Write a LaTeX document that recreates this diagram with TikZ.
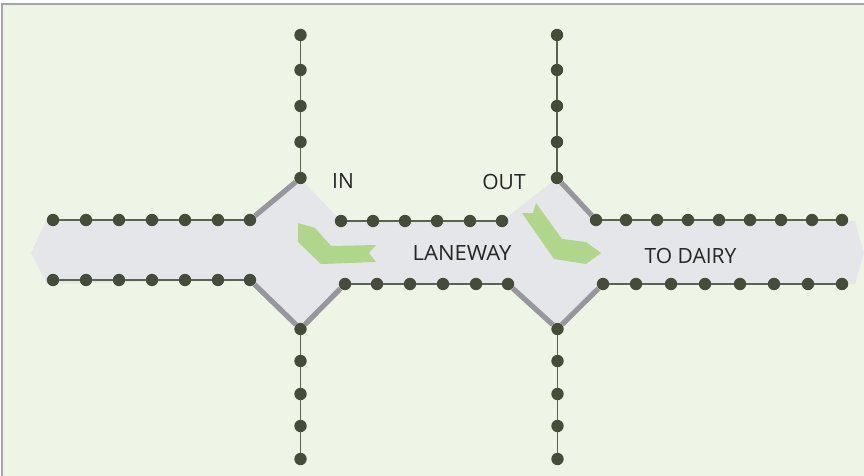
\documentclass[tikz,border=0pt]{standalone}
\usepackage{fontspec}
\setmainfont{Open Sans}
\usepackage{xcolor}
\definecolor{paddock}{HTML}{EFF5E6}
\definecolor{yard}{HTML}{E5E6E9}
\definecolor{framegrey}{HTML}{A6A6A6}
\definecolor{gategrey}{HTML}{96969C}
\definecolor{postgreen}{HTML}{454D3A}
\definecolor{railgreen}{HTML}{5A6250}
\definecolor{flow}{HTML}{AFD68A}
\tikzset{
	post/.style={circle,fill=postgreen,minimum size=12.4pt,inner sep=0pt},
	fence/.style={draw=railgreen,line width=1.3pt},
	gate/.style={draw=gategrey,line width=5.2pt},
	lbl/.style={inner sep=0pt,text=black!85,font=\fontsize{21}{23}\selectfont}
}
\begin{document}
\begin{tikzpicture}[x=1pt,y=-1pt]
	\useasboundingbox (0,0) rectangle (864,476);
	\fill[paddock] (2,4) rectangle (864,476);
	\draw[framegrey,line width=2pt] (2,476) -- (2,4.5) -- (864,4.5);
	
	% yard and laneway
	\fill[yard] (31,253) -- (47,219) -- (250,220) -- (300,178) -- (341,221) -- (502,221) -- (557,178) -- (596,220) -- (855,221) -- (864,253) -- (855,284) -- (603,284) -- (557,329) -- (508,284) -- (345,284) -- (300,329) -- (250,280) -- (47,284) -- cycle;
	
	% flow arrows
	\fill[flow] (298,223) -- (315,228) -- (331,246) -- (376,245) -- (369,253) -- (376,262) -- (321,264) -- (298,242) -- cycle;
	\fill[flow] (536,203) -- (562,239) -- (586,242) -- (601,253) -- (586,264) -- (554,259) -- (522,213) -- (533,213) -- cycle;
	
	% posts
	\foreach \x [count=\i] in {53,86,119,152,185,218,250} {
		\node[post] (lt\i) at (\x,220) {};
		\node[post] (lb\i) at (\x,280) {};
	}
	\foreach \x [count=\i] in {341,373,405,437,470,502}
		\node[post] (mt\i) at (\x,221) {};
	\foreach \x [count=\i] in {345,377,410,443,476,508}
		\node[post] (mb\i) at (\x,284) {};
	\foreach \x [count=\i] in {596,626,657,688,719,750,781,812,842}
		\node[post] (rt\i) at (\x,220) {};
	\foreach \x [count=\i] in {603,636,671,705,740,774,808,842}
		\node[post] (rb\i) at (\x,284) {};
	\foreach \y [count=\i] in {35,70,106,142,178} {
		\node[post] (ua\i) at (300.5,\y) {};
		\node[post] (ub\i) at (557,\y) {};
	}
	\foreach \y [count=\i] in {329,361,394,426,459} {
		\node[post] (da\i) at (300.5,\y) {};
		\node[post] (db\i) at (557.5,\y) {};
	}
	
	% fences
	\foreach \a/\b in {1/2,2/3,3/4,4/5,5/6,6/7} {
		\draw[fence] (lt\a) -- (lt\b);
		\draw[fence] (lb\a) -- (lb\b);
	}
	\foreach \a/\b in {1/2,2/3,3/4,4/5,5/6} {
		\draw[fence] (mt\a) -- (mt\b);
		\draw[fence] (mb\a) -- (mb\b);
	}
	\foreach \a/\b in {1/2,2/3,3/4,4/5,5/6,6/7,7/8,8/9}
		\draw[fence] (rt\a) -- (rt\b);
	\foreach \a/\b in {1/2,2/3,3/4,4/5,5/6,6/7,7/8}
		\draw[fence] (rb\a) -- (rb\b);
	\foreach \a/\b in {1/2,2/3,3/4,4/5} {
		\draw[fence] (ua\a) -- (ua\b);
		\draw[fence] (ub\a) -- (ub\b);
		\draw[fence] (da\a) -- (da\b);
		\draw[fence] (db\a) -- (db\b);
	}
	
	% gates
	\draw[gate] (lt7) -- (ua5);
	\draw[gate] (lb7) -- (da1);
	\draw[gate] (da1) -- (mb1);
	\draw[gate] (ub5) -- (rt1);
	\draw[gate] (mb6) -- (db1);
	\draw[gate] (db1) -- (rb1);
	
	% labels
	\node[lbl] (in) at (343,181.5) {IN};
	\node[lbl] (out) at (504,181.5) {OUT};
	\node[lbl,xscale=1.05] (laneway) at (462,252.5) {LANEWAY};
	\node[lbl] (dairy) at (690.5,255.5) {TO DAIRY};
\end{tikzpicture}
\end{document}
